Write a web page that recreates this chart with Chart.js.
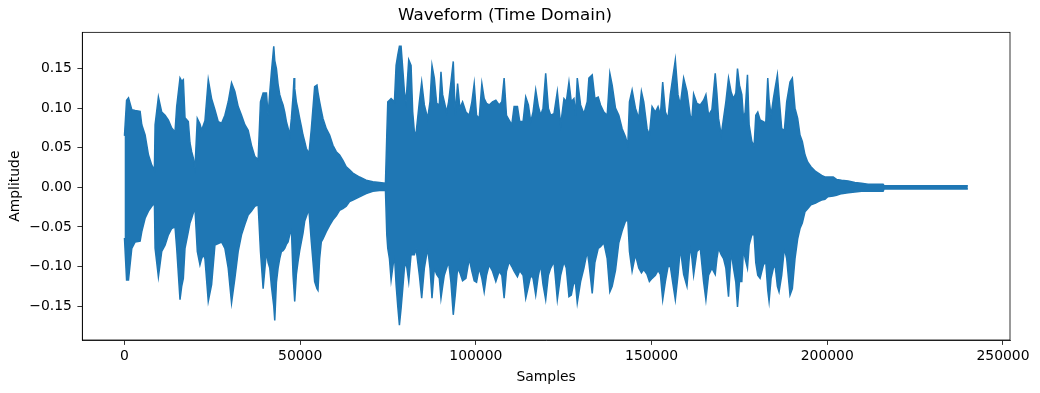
<!DOCTYPE html>
<html>
<head>
<meta charset="utf-8">
<script src="https://cdn.jsdelivr.net/npm/chart.js@4/dist/chart.umd.min.js"></script>
<style>
  html, body { margin: 0; padding: 0; background: #fff; }
  canvas { display: block; }
</style>
</head>
<body>
<canvas id="wave" width="1040" height="393"></canvas>
<script>
// envelope of the waveform (sample index, max, min)
const samplePos = [
  0, 600, 1144, 2090, 3036, 4455, 4928, 5874, 6820, 7766, 8523, 8712, 9658, 10604, 11550, 12496, 13442, 14388, 14861,
  15807, 16280, 16753, 17226, 18172, 18645, 19118, 19591, 20064, 20726, 21483, 21956, 22429, 22902, 23848, 24794,
  25740, 26686, 27632, 28578, 29524, 30470, 31416, 32362, 33308, 34254, 35200, 36146, 37092, 38038, 38700,
  39458, 40404, 40877, 41350, 41823, 42485, 42769, 43242, 43715, 44188, 44661, 45134, 45607, 46080, 46553, 47026,
  47499, 47972, 48256, 48445, 48918, 49391, 49864, 50337, 50810, 51283, 51756, 52229, 52513, 53175, 54121, 54783,
  55067, 55540, 56013, 56486, 57432, 58378, 59324, 60270, 61216, 62162, 63108, 64054, 65000, 66892, 68784, 70676,
  72568, 74271, 74650, 74933, 75406, 75879, 76825, 77298, 77770,
  78244, 78717, 79190, 79663, 80136, 80893, 81555, 82028, 82501, 82974, 83920, 84582, 85339, 86285, 86947, 87515,
  88177, 88839, 89596, 90069, 90542, 91015, 91677, 92245, 92907, 93569, 94137, 94799, 95461, 96218, 97164, 98110,
  98867, 99529, 100191, 100948, 101705, 102367, 103029, 103786, 104732, 105678, 106624, 107381, 108043, 108705,
  109462, 110219, 110881, 111827, 112489, 113435, 114192, 114949, 115611, 116273, 117030, 117787, 118449, 119111,
  119868, 120625,
  121287, 122233, 123179, 124125, 125071, 125733, 126490, 127152, 127909, 128382, 128855, 129801, 130747, 131693,
  132166, 133112, 133869, 134815, 135477, 136423, 137369, 138126, 138788, 139734, 140680, 141626, 142572, 143234,
  143707, 144464, 145410, 146356, 147113, 147775, 148721, 149383, 150140, 151086, 151843, 152505, 153167, 153924,
  154681, 155343, 156005, 156762, 157519, 158181, 159127, 160073,
  161019, 161492, 161965, 162911, 163857, 164803, 165465, 166222, 167168, 168114, 168587, 169060, 169817, 170479,
  171141, 171898, 172655, 173317, 173979, 174452, 175019, 175684, 176155, 176628, 177290, 177763, 178520, 179182,
  179655, 180223, 180885, 181831, 182493, 183061, 183439, 184007, 184669, 185142, 185804, 186277, 187034, 187791,
  188453, 189399, 190061, 190818, 191575, 192237, 192899, 193656, 194413, 195359, 196683, 197440, 198386, 199332,
  200089, 201693, 202639, 204058, 205950, 207842, 209734, 211626, 213518, 215883, 216167, 222000, 228000, 234000, 239999
];
const upperEnv = [
  0.065, 0.110, 0.113, 0.098, 0.097, 0.096, 0.079, 0.066, 0.041, 0.028, 0.022, 0.079, 0.114, 0.095, 0.091, 0.085, 0.075, 0.070, 0.102,
  0.138, 0.134, 0.136, 0.088, 0.083, 0.056, 0.045, 0.037, 0.024, 0.087, 0.080, 0.072, 0.078, 0.084, 0.136, 0.112,
  0.098, 0.083, 0.081, 0.091, 0.108, 0.132, 0.121, 0.102, 0.091, 0.079, 0.072, 0.053, 0.039, 0.035, 0.108,
  0.119, 0.119, 0.091, 0.120, 0.146, 0.178, 0.160, 0.150, 0.130, 0.117, 0.110, 0.104, 0.095, 0.083, 0.075, 0.066,
  0.087, 0.115, 0.138, 0.125, 0.108, 0.098, 0.087, 0.077, 0.066, 0.058, 0.049, 0.045, 0.043, 0.074, 0.127, 0.129,
  0.120, 0.108, 0.097, 0.087, 0.074, 0.066, 0.053, 0.045, 0.041, 0.034, 0.026, 0.022, 0.018, 0.013, 0.009, 0.007,
  0.006, 0.005, 0.066, 0.108, 0.110, 0.112, 0.108, 0.154, 0.167,
  0.178, 0.178, 0.150, 0.121, 0.108, 0.161, 0.154, 0.095, 0.070, 0.068, 0.108, 0.133, 0.104, 0.087, 0.108, 0.154,
  0.138, 0.106, 0.104, 0.146, 0.117, 0.108, 0.095, 0.108, 0.133, 0.159, 0.091, 0.131, 0.100, 0.108, 0.095, 0.091,
  0.108, 0.131, 0.091, 0.087, 0.131, 0.112, 0.106, 0.104, 0.108, 0.110, 0.104, 0.108, 0.138, 0.091,
  0.085, 0.079, 0.102, 0.102, 0.083, 0.083, 0.114, 0.104, 0.083, 0.095, 0.123, 0.102, 0.091, 0.100,
  0.144, 0.100,
  0.091, 0.093, 0.121, 0.079, 0.112, 0.108, 0.133, 0.108, 0.112, 0.091, 0.138, 0.104, 0.093, 0.108,
  0.138, 0.142, 0.112, 0.114, 0.104, 0.095, 0.091, 0.144, 0.129, 0.100, 0.091, 0.074, 0.064, 0.053,
  0.108, 0.123, 0.100, 0.087, 0.121, 0.108, 0.074, 0.066, 0.102, 0.095, 0.102, 0.091, 0.133, 0.095,
  0.087, 0.117, 0.138, 0.161, 0.117, 0.104, 0.138, 0.121,
  0.090, 0.087, 0.118, 0.106, 0.104, 0.110, 0.117, 0.091, 0.098, 0.144, 0.119, 0.087, 0.066, 0.087,
  0.108, 0.138, 0.120, 0.112, 0.119, 0.150, 0.129, 0.117, 0.087, 0.095, 0.142, 0.079, 0.058, 0.052,
  0.091, 0.095, 0.085, 0.083, 0.081, 0.138, 0.110, 0.091, 0.112, 0.125, 0.142, 0.115, 0.074, 0.072,
  0.108, 0.133, 0.138, 0.100, 0.087, 0.066, 0.058, 0.041, 0.032, 0.026, 0.020, 0.018, 0.015, 0.013,
  0.013, 0.013, 0.010, 0.009, 0.008, 0.006, 0.005, 0.004, 0.004, 0.004, 0.002, 0.002, 0.002, 0.002, 0.002
];
const lowerEnv = [
  -0.064, -0.117, -0.117, -0.077, -0.069, -0.068, -0.056, -0.039, -0.030, -0.024, -0.020, -0.077, -0.113, -0.081, -0.073, -0.060, -0.052, -0.050, -0.077,
  -0.142, -0.125, -0.115, -0.077, -0.056, -0.045, -0.039, -0.032, -0.027, -0.081, -0.098, -0.090, -0.085, -0.090, -0.144, -0.123,
  -0.073, -0.071, -0.069, -0.077, -0.102, -0.146, -0.115, -0.081, -0.060, -0.047, -0.035, -0.030, -0.024, -0.022, -0.081,
  -0.128, -0.081, -0.095, -0.102, -0.125, -0.150, -0.168, -0.120, -0.102, -0.090, -0.081, -0.080, -0.077, -0.072, -0.069, -0.060,
  -0.052, -0.111, -0.130, -0.144, -0.110, -0.094, -0.080, -0.069, -0.058, -0.043, -0.037, -0.031, -0.030, -0.069, -0.119, -0.128,
  -0.130, -0.090, -0.069, -0.065, -0.056, -0.048, -0.041, -0.036, -0.029, -0.027, -0.024, -0.018, -0.016, -0.012, -0.008, -0.005,
  -0.004, -0.004, -0.060, -0.077, -0.090, -0.117, -0.085, -0.123, -0.150,
  -0.174, -0.153, -0.128, -0.102, -0.094, -0.119, -0.085, -0.085, -0.085, -0.077, -0.111, -0.140, -0.102, -0.077, -0.102, -0.140,
  -0.102, -0.110, -0.115, -0.140, -0.125, -0.111, -0.102, -0.094, -0.120, -0.161, -0.136, -0.102, -0.108, -0.118, -0.115, -0.090,
  -0.106, -0.118, -0.120, -0.102, -0.115, -0.132, -0.111, -0.098, -0.106, -0.119, -0.106, -0.111, -0.140, -0.106,
  -0.094, -0.100, -0.106, -0.113, -0.105, -0.111, -0.140, -0.125, -0.111, -0.115, -0.136, -0.111, -0.098, -0.123,
  -0.142, -0.111,
  -0.102, -0.094, -0.142, -0.111, -0.094, -0.102, -0.138, -0.136, -0.119, -0.123, -0.146, -0.119, -0.102, -0.081,
  -0.095, -0.134, -0.095, -0.077, -0.075, -0.070, -0.090, -0.132, -0.125, -0.105, -0.070, -0.055, -0.043, -0.041,
  -0.081, -0.106, -0.085, -0.102, -0.108, -0.104, -0.110, -0.119, -0.115, -0.111, -0.105, -0.110, -0.142, -0.119,
  -0.100, -0.100, -0.120, -0.142, -0.111, -0.077, -0.110, -0.125,
  -0.073, -0.090, -0.111, -0.081, -0.077, -0.119, -0.142, -0.111, -0.102, -0.110, -0.090, -0.077, -0.085, -0.090,
  -0.102, -0.138, -0.081, -0.102, -0.120, -0.151, -0.119, -0.119, -0.077, -0.090, -0.102, -0.073, -0.060, -0.060,
  -0.095, -0.111, -0.115, -0.098, -0.094, -0.130, -0.144, -0.115, -0.102, -0.098, -0.125, -0.132, -0.111, -0.077,
  -0.090, -0.136, -0.128, -0.090, -0.065, -0.052, -0.045, -0.031, -0.027, -0.022, -0.020, -0.018, -0.016, -0.015,
  -0.012, -0.011, -0.010, -0.008, -0.007, -0.006, -0.005, -0.005, -0.005, -0.005, -0.002, -0.002, -0.002, -0.002, -0.002
];
const xTicks = [0, 50000, 100000, 150000, 200000, 250000];
const yTicks = [-0.15, -0.10, -0.05, 0.00, 0.05, 0.10, 0.15];

const blue = '#1f77b4';
const font = 'DejaVu Sans';
Chart.defaults.color = '#000';
Chart.defaults.font.family = font;

// top & right spines
const frame = {
  id: 'frame',
  afterDraw(chart) {
    const a = chart.chartArea, c = chart.ctx;
    c.save();
    c.strokeStyle = '#000';
    c.lineWidth = 0.8;
    c.strokeRect(a.left, a.top, a.right - a.left, a.bottom - a.top);
    c.restore();
  }
};

const axisCommon = {
  grid: { drawOnChartArea: false, drawTicks: true, tickLength: 4.9, color: '#000', lineWidth: 0.8 },
  border: { display: true, color: '#000', width: 0.8 }
};

new Chart(document.getElementById('wave'), {
  type: 'line',
  data: {
    datasets: [{
      data: samplePos.map((s, i) => ({ x: s, y: upperEnv[i] })),
      borderColor: blue,
      backgroundColor: blue,
      borderWidth: 1.5,
      pointRadius: 0,
      fill: 1
    }, {
      data: samplePos.map((s, i) => ({ x: s, y: lowerEnv[i] })),
      borderColor: blue,
      backgroundColor: blue,
      borderWidth: 1.5,
      pointRadius: 0,
      fill: false
    }]
  },
  options: {
    responsive: false,
    animation: false,
    layout: { padding: { left: 0, right: 30, top: 0, bottom: 0 } },
    plugins: {
      legend: { display: false },
      tooltip: { enabled: false },
      title: {
        display: true,
        text: 'Waveform (Time Domain)',
        font: { family: font, size: 16.7, weight: 'normal', lineHeight: 1.2 },
        padding: { top: 6, bottom: 6.3 }
      }
    },
    scales: {
      x: {
        ...axisCommon,
        type: 'linear',
        min: -12000,
        max: 252000,
        afterBuildTicks: s => { s.ticks = xTicks.map(v => ({ value: v })); },
        afterFit: s => { s.height = 53; },
        ticks: { font: { family: font, size: 13.9 }, padding: 3, maxRotation: 0, callback: v => String(v) },
        title: { display: true, text: 'Samples', font: { family: font, size: 13.9 }, padding: { top: 0, bottom: 7.7 } }
      },
      y: {
        ...axisCommon,
        min: -0.1928,
        max: 0.1957,
        afterBuildTicks: s => { s.ticks = yTicks.map(v => ({ value: v })); },
        afterFit: s => { s.width = 82.3; },
        ticks: {
          font: { family: font, size: 13.9 }, padding: 5.5,
          callback: v => (v < -1e-9 ? '\u2212' : '') + Math.abs(v).toFixed(2)
        },
        title: { display: true, text: 'Amplitude', font: { family: font, size: 13.9 }, padding: { top: 7.2, bottom: 0 } }
      }
    }
  },
  plugins: [frame]
});
</script>
</body>
</html>
